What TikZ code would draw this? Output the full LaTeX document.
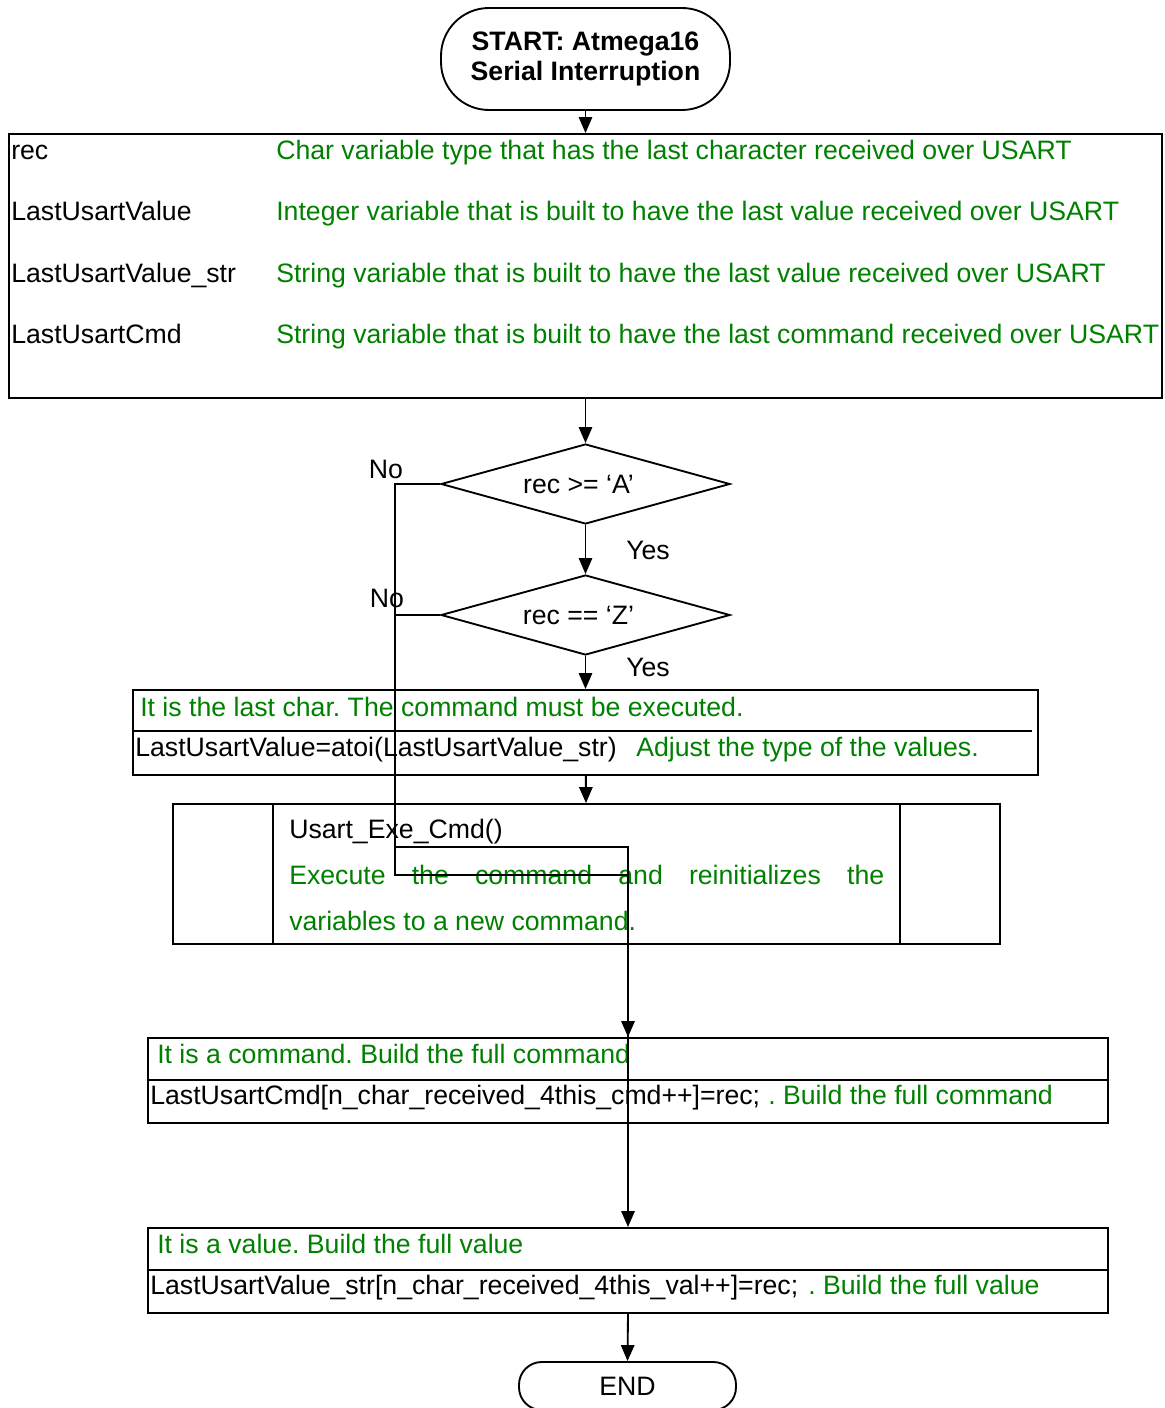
\documentclass[tikz,border=0pt]{standalone}
\usepackage{fontspec}
\setmainfont{Liberation Sans}
\usetikzlibrary{shapes.geometric,arrows.meta}
\definecolor{cmtgreen}{RGB}{0,128,0}
\frenchspacing
\begin{document}
\begin{tikzpicture}[x=0.75pt,y=-0.75pt,
  font=\fontsize{20pt}{24pt}\selectfont,
  ln/.style={line width=1.4pt},
  arr/.style={ln,-{Triangle[length=12pt,width=10pt]}},
  box/.style={draw,ln,rectangle,inner sep=0pt},
  startterm/.style={draw,ln,rectangle,rounded corners=36pt,inner sep=0pt,align=center,
    font=\fontsize{20pt}{22.5pt}\bfseries\selectfont},
  endterm/.style={draw,ln,rectangle,rounded corners=17pt,inner sep=0pt},
  dec/.style={draw,ln,diamond,aspect=3.6,inner sep=0pt,minimum width=216.75pt,minimum height=60pt},
  txt/.style={anchor=base west,inner sep=0pt},
  cmt/.style={txt,text=cmtgreen},
  lbl/.style={inner sep=0pt}
]
\useasboundingbox (0,0) rectangle (1164,1408);

% terminals
\node[startterm,minimum width=216.75pt,minimum height=76.5pt] (start) at (585.5,59)
  {START: Atmega16\\Serial Interruption\rule[-4pt]{0pt}{1pt}};
\node[endterm,minimum width=162.75pt,minimum height=36pt] (stop) at (627.5,1386) {END};

% variable table
\node[box,minimum width=864.75pt,minimum height=198pt] (vars) at (585.5,266) {};
\node[txt] (v1) at (11,160) {rec};
\node[txt] (v2) at (11,221) {LastUsartValue};
\node[txt] (v3) at (11,282.5) {LastUsartValue\_str};
\node[txt] (v4) at (11,344) {LastUsartCmd};
\node[cmt] (c1) at (276,160) {Char variable type that has the last character received over USART};
\node[cmt] (c2) at (276,221) {Integer variable that is built to have the last value received over USART};
\node[cmt] (c3) at (276,282.5) {String variable that is built to have the last value received over USART};
\node[cmt] (c4) at (276,344) {String variable that is built to have the last command received over USART};

% decisions (text sits slightly left of the centre)
\node[dec] (d1) at (585.5,484) {rec >= ‘A’\hspace*{10.5pt}};
\node[dec] (d2) at (585.5,615) {rec == ‘Z’\hspace*{10.5pt}};

% last character: convert value
\node[box,minimum width=678.75pt,minimum height=63.75pt] (last) at (585.5,732.5) {};
\coordinate (lastdivL) at (133,731);
\coordinate (lastdivR) at (1032,731);
\draw[ln] (lastdivL) -- (lastdivR);
\node[cmt] (l1) at (140,716) {It is the last char. The command must be executed.};
\node[txt] (l2) at (135,756) {LastUsartValue=atoi(LastUsartValue\_str)};
\node[cmt] (l3) at (636,756) {Adjust the type of the values.};

% predefined process
\node[box,minimum width=620.25pt,minimum height=105pt] (exe) at (586.5,874) {};
\coordinate (exeA) at (273,804);
\coordinate (exeB) at (900,804);
\draw[ln] (exeA) -- (exeA |- exe.south);
\draw[ln] (exeB) -- (exeB |- exe.south);
\node[txt] (e1) at (289,838) {Usart\_Exe\_Cmd()};
\node[cmt] (e2) at (289,884)
  {\makebox[446.25pt][s]{Execute the command and reinitializes the}};
\node[cmt] (e3) at (289,930) {variables to a new command.};

% command character
\node[box,minimum width=720pt,minimum height=63.75pt] (cmd) at (628,1080.5) {};
\draw[ln] (cmd.west |- 0,1080) -- (cmd.east |- 0,1080);
\node[cmt] (m1) at (157,1063) {It is a command. Build the full command};
\node[txt] (m2) at (150,1104) {LastUsartCmd[n\_char\_received\_4this\_cmd++]=rec;};
\node[cmt] (m3) at (768,1104) {. Build the full command};

% value character
\node[box,minimum width=720pt,minimum height=63.75pt] (val) at (628,1270.5) {};
\draw[ln] (val.west |- 0,1270) -- (val.east |- 0,1270);
\node[cmt] (u1) at (157,1253) {It is a value. Build the full value};
\node[txt] (u2) at (150,1294) {LastUsartValue\_str[n\_char\_received\_4this\_val++]=rec;};
\node[cmt] (u3) at (808,1294) {. Build the full value};

% main flow
\draw[arr] (start) -- (vars);
\draw[arr] (vars) -- (d1);
\draw[arr] (d1) -- (d2);
\draw[arr] (d2) -- (last);
\draw[arr] (last) -- (exe);
\draw[arr] (val.south) -- (stop.north);

% "No" branches
\coordinate (noA) at (395,875);
\coordinate (noZ) at (395,847);
\draw[arr] (d1.west) -| (noA) -- (noA -| val.north) -- (val.north);
\draw[arr] (d2.west) -| (noZ) -- (noZ -| cmd.north) -- (cmd.north);

% branch labels
\node[lbl] (no1) at (386,469) {No};
\node[lbl] (no2) at (387,598) {No};
\node[lbl] (yes1) at (648,550) {Yes};
\node[lbl] (yes2) at (648,667) {Yes};
\end{tikzpicture}
\end{document}
